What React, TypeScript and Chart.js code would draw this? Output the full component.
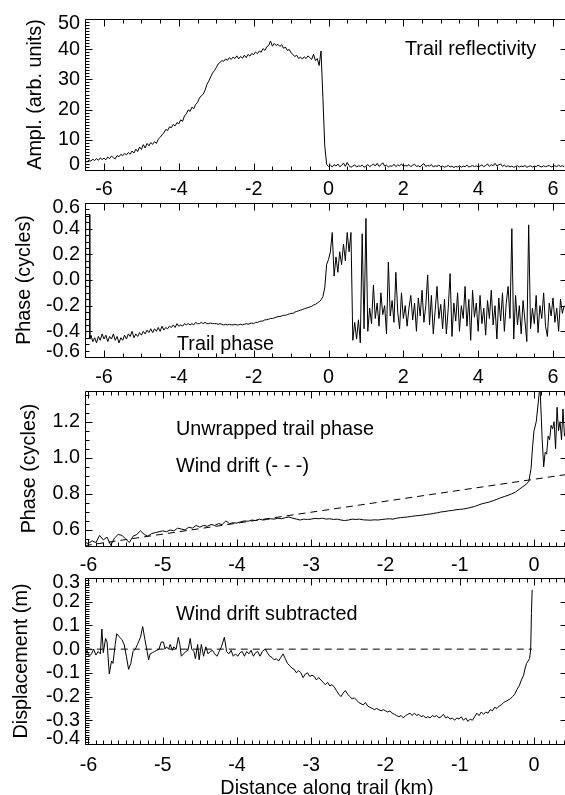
import { useEffect, useRef } from "react";
import { Chart, registerables } from "chart.js";

Chart.register(...registerables);

// ---------------- data ----------------
// Panel 1: trail reflectivity, regular grid in km
const P1_X0 = -6.5;
const P1_DX = 0.05;
const P1_AMPL = [
  3.2, 2.6, 3.4, 2.9, 3.6, 3.1, 3.8, 3.2, 4.0, 3.5,
  3.9, 3.4, 4.3, 3.8, 4.6, 4.1, 3.7, 4.8, 4.4, 5.2, 4.7, 5.5, 5.0, 5.8, 5.2, 6.3, 5.6, 6.9, 6.1, 7.6,
  6.8, 8.4, 7.3, 8.8, 8.0, 9.1, 8.5, 9.4, 8.8, 10.2, 10.8, 11.6, 12.3, 13.4, 13.1, 14.3, 14.0, 15.1, 14.6, 15.7,
  15.3, 16.6, 16.1, 17.9, 18.6, 19.9, 19.4, 20.8, 20.3, 21.7, 22.4, 23.8, 24.6, 25.1, 26.4, 28.3, 29.4, 30.8, 32.1, 32.9,
  33.9, 35.1, 35.6, 36.2, 36.0, 36.8, 36.3, 37.2, 36.6, 37.4, 36.9, 37.8, 36.8, 37.6, 37.0, 38.0, 37.2, 38.3, 37.7, 38.6,
  38.2, 39.1, 38.5, 39.4, 39.0, 40.2, 39.6, 40.8, 41.2, 42.7, 41.0, 41.9, 41.2, 41.6, 40.9, 41.5, 40.3, 40.7, 39.6, 39.9,
  38.8, 38.2, 37.6, 38.0, 36.9, 37.4, 36.7, 37.5, 36.9, 37.8, 37.2, 36.6, 38.3, 36.2, 36.9, 34.6, 39.4, 24.0, 8.0, 1.8,
  1.2, 1.6, 1.0, 1.8, 1.3, 2.0, 1.1, 1.5, 2.3, 1.2, 2.5, 1.4, 0.9, 1.3, 1.7, 1.0, 1.4, 1.2, 1.6, 0.9,
  1.3, 1.8, 1.1, 1.5, 2.0, 1.3, 2.2, 1.2, 1.7, 2.4, 1.3, 1.6, 1.0, 1.4, 1.2, 1.9, 1.1, 1.7, 1.4, 2.0,
  1.2, 1.5, 1.3, 1.8, 1.1, 1.6, 1.9, 1.2, 1.4, 1.0, 1.7, 2.1, 1.2, 1.5, 1.3, 1.8, 1.0, 1.4, 1.2, 1.6,
  1.1, 1.3, 0.9, 1.2, 1.5, 1.0, 1.3, 0.8, 1.2, 1.0, 1.4, 0.9, 1.3, 1.1, 1.6, 1.0, 1.2, 1.5, 1.1, 1.4,
  1.0, 1.3, 1.7, 1.1, 1.5, 2.0, 1.2, 1.8, 1.4, 2.2, 1.3, 1.7, 2.0, 1.2, 1.6, 1.1, 1.4, 1.0, 1.3, 0.9,
  1.2, 1.4, 1.0, 1.3, 1.1, 1.5, 0.9, 1.2, 1.4, 1.0, 1.3, 1.1, 1.6, 1.2, 1.0, 1.4, 1.1, 1.3, 1.5, 1.0,
  1.2, 1.4, 1.1, 1.6, 1.2, 1.4, 1.1,
];

// Panel 2: trail phase (wrapped). Phase-wrap bar at the very start, then a regular grid
const P2_EDGE: [number, number][] = [
  [-6.5, -0.44], [-6.49, 0.51], [-6.385, 0.51], [-6.38, -0.46],
];
const P2_X0 = -6.35;
const P2_DX = 0.05;
const P2_PHASE = [
  -0.43, -0.48, -0.45, -0.49, -0.44, -0.47, -0.42, -0.46, -0.43, -0.48, -0.44, -0.46, -0.42, -0.47, -0.44, -0.49, -0.45, -0.47, -0.43, -0.46,
  -0.42, -0.44, -0.40, -0.45, -0.42, -0.44, -0.41, -0.43, -0.40, -0.42, -0.39, -0.41, -0.38, -0.41, -0.38, -0.40, -0.37, -0.40, -0.36, -0.39,
  -0.37, -0.38, -0.36, -0.37, -0.35, -0.37, -0.34, -0.36, -0.35, -0.36, -0.34, -0.35, -0.34, -0.35, -0.34, -0.35, -0.33, -0.34, -0.34, -0.33,
  -0.34, -0.33, -0.34, -0.34, -0.335, -0.34, -0.34, -0.34, -0.345, -0.34, -0.345, -0.35, -0.345, -0.35, -0.345, -0.35, -0.35, -0.345, -0.35, -0.35,
  -0.345, -0.35, -0.345, -0.34, -0.345, -0.34, -0.335, -0.34, -0.33, -0.33, -0.325, -0.32, -0.32, -0.31, -0.31, -0.305, -0.30, -0.30, -0.295, -0.29,
  -0.285, -0.285, -0.28, -0.275, -0.275, -0.27, -0.265, -0.26, -0.26, -0.25, -0.245, -0.24, -0.235, -0.23, -0.225, -0.22, -0.215, -0.21, -0.205, -0.195,
  -0.19, -0.18, -0.17, -0.155, -0.13, -0.06, 0.12, 0.16, 0.22, 0.37, 0.03, 0.18, 0.06, 0.22, 0.12, 0.28, 0.15, 0.37, 0.22, 0.37,
  -0.47, -0.33, -0.46, -0.31, -0.49, 0.36, -0.38, 0.48, -0.40, -0.22, -0.34, -0.04, -0.30, -0.18, -0.36, -0.10, -0.27, -0.20, -0.42, 0.14,
  -0.28, -0.16, -0.33, 0.06, -0.25, -0.38, -0.10, -0.30, -0.20, -0.36, -0.22, -0.12, -0.31, -0.18, -0.40, -0.14, -0.28, -0.08, -0.33, -0.20,
  0.04, -0.35, -0.12, -0.42, -0.24, -0.05, -0.30, -0.19, -0.38, -0.15, -0.42, -0.22, 0.05, -0.44, -0.18, -0.32, -0.10, -0.40, -0.20, -0.30,
  -0.05, -0.36, -0.15, -0.47, -0.08, -0.29, -0.18, -0.40, -0.12, -0.34, -0.22, -0.43, -0.16, -0.30, -0.08, -0.35, -0.20, -0.46, -0.14, -0.32,
  -0.10, -0.40, -0.18, -0.05, -0.30, 0.40, -0.46, -0.12, -0.35, -0.20, -0.42, -0.16, -0.32, -0.48, 0.43, -0.38, -0.22, -0.34, -0.12, -0.41,
  -0.20, -0.30, -0.10, -0.36, -0.44, -0.18, -0.28, -0.14, -0.33, -0.22, -0.40, -0.15, -0.26, -0.20,
];

// Panel 3: unwrapped trail phase (regular grid up to -0.15 km, then explicit points)
const P3_X0 = -6.05;
const P3_DX = 0.05;
const P3_UNWRAPPED = [
  0.53, 0.525, 0.54, 0.53, 0.57, 0.545, 0.56, 0.515, 0.555, 0.575, 0.57, 0.55, 0.53, 0.565, 0.575, 0.595, 0.575, 0.565, 0.58, 0.585,
  0.59, 0.595, 0.59, 0.60, 0.595, 0.61, 0.605, 0.60, 0.615, 0.61, 0.625, 0.615, 0.625, 0.62, 0.63, 0.625, 0.635, 0.63, 0.65, 0.635,
  0.64, 0.638, 0.645, 0.65, 0.648, 0.655, 0.652, 0.66, 0.655, 0.658, 0.662, 0.66, 0.665, 0.662, 0.668, 0.672, 0.665, 0.66, 0.655, 0.66,
  0.658, 0.66, 0.664, 0.662, 0.665, 0.66, 0.662, 0.658, 0.66, 0.655, 0.652, 0.655, 0.66, 0.658, 0.66, 0.656, 0.655, 0.654, 0.656, 0.655,
  0.658, 0.66, 0.662, 0.66, 0.665, 0.668, 0.67, 0.672, 0.675, 0.678, 0.68, 0.682, 0.686, 0.688, 0.692, 0.695, 0.70, 0.702, 0.706, 0.708,
  0.712, 0.714, 0.716, 0.72, 0.725, 0.73, 0.738, 0.745, 0.75, 0.755, 0.762, 0.77, 0.778, 0.785, 0.792, 0.80, 0.81, 0.825, 0.84,
];
const P3_TAIL: [number, number][] = [
  [-0.10, 0.855], [-0.07, 0.87], [-0.04, 0.94], [-0.02, 1.06], [0.0, 1.15], [0.03, 1.2],
  [0.06, 1.32], [0.08, 1.40], [0.11, 1.10], [0.13, 0.95], [0.15, 1.03], [0.17, 1.02],
  [0.19, 1.12], [0.21, 1.10], [0.23, 1.18], [0.25, 1.16], [0.27, 1.20], [0.29, 1.05],
  [0.31, 1.28], [0.33, 1.15], [0.35, 1.20], [0.37, 1.10], [0.39, 1.27], [0.41, 1.12], [0.43, 1.15],
];
// Wind drift (dashed) line end points
const WIND_X = [-6.05, 0.45];
const WIND_Y = [0.513, 0.908];

// Panel 4: displacement with wind drift subtracted
const P4_POINTS: [number, number][] = [
  [-6.05, -0.03], [-6.02, -0.005], [-5.99, -0.03], [-5.96, -0.02], [-5.93, 0.0], [-5.90, -0.025],
  [-5.87, -0.01], [-5.84, -0.02], [-5.82, 0.085], [-5.80, -0.015], [-5.77, 0.045], [-5.75, 0.03],
  [-5.72, -0.105], [-5.69, -0.05], [-5.67, -0.06], [-5.64, 0.02], [-5.62, 0.065], [-5.58, 0.05],
  [-5.55, 0.04], [-5.52, 0.02], [-5.49, -0.03], [-5.46, -0.085], [-5.43, -0.06], [-5.40, -0.01],
  [-5.37, 0.0], [-5.34, 0.02], [-5.30, 0.05], [-5.27, 0.095], [-5.24, 0.04], [-5.21, -0.01],
  [-5.19, -0.045], [-5.17, -0.02], [-5.14, -0.015], [-5.11, -0.01], [-5.08, -0.005], [-5.05, 0.0],
  [-5.02, 0.03], [-4.99, 0.03], [-4.97, 0.0], [-4.95, 0.01], [-4.92, 0.0], [-4.90, 0.02],
  [-4.87, -0.005], [-4.85, 0.01], [-4.82, 0.0], [-4.79, 0.05], [-4.77, 0.02], [-4.75, -0.03],
  [-4.72, -0.02], [-4.69, -0.01], [-4.66, -0.005], [-4.63, 0.045], [-4.61, 0.0], [-4.58, -0.01],
  [-4.56, -0.04], [-4.53, 0.02], [-4.51, -0.045], [-4.48, 0.02], [-4.45, -0.03], [-4.42, 0.01],
  [-4.39, -0.02], [-4.36, -0.01], [-4.33, -0.005], [-4.30, -0.02], [-4.27, -0.03], [-4.24, -0.01],
  [-4.21, 0.01], [-4.17, 0.05], [-4.14, -0.01], [-4.11, -0.02], [-4.08, -0.005], [-4.05, -0.03],
  [-4.02, -0.02], [-3.99, -0.03], [-3.96, -0.015], [-3.93, -0.01], [-3.90, -0.03], [-3.87, -0.01],
  [-3.84, -0.02], [-3.81, -0.005], [-3.78, -0.03], [-3.75, -0.015], [-3.72, -0.01], [-3.69, -0.03],
  [-3.66, -0.01], [-3.62, 0.0], [-3.59, -0.015], [-3.56, -0.03], [-3.53, -0.035], [-3.50, -0.045],
  [-3.47, -0.04], [-3.44, -0.05], [-3.41, -0.035], [-3.38, -0.02], [-3.35, -0.04], [-3.32, -0.06],
  [-3.29, -0.07], [-3.26, -0.08], [-3.23, -0.085], [-3.20, -0.1], [-3.17, -0.09], [-3.14, -0.1],
  [-3.11, -0.12], [-3.08, -0.105], [-3.05, -0.1], [-3.02, -0.115], [-2.99, -0.11], [-2.96, -0.115],
  [-2.93, -0.13], [-2.90, -0.12], [-2.87, -0.13], [-2.84, -0.14], [-2.81, -0.15], [-2.78, -0.14],
  [-2.75, -0.155], [-2.72, -0.15], [-2.69, -0.16], [-2.66, -0.175], [-2.63, -0.19], [-2.60, -0.2],
  [-2.57, -0.185], [-2.54, -0.175], [-2.51, -0.19], [-2.48, -0.2], [-2.45, -0.21], [-2.42, -0.205],
  [-2.39, -0.215], [-2.36, -0.225], [-2.33, -0.23], [-2.30, -0.235], [-2.27, -0.225], [-2.24, -0.24],
  [-2.21, -0.245], [-2.18, -0.25], [-2.15, -0.255], [-2.12, -0.25], [-2.09, -0.255], [-2.06, -0.26],
  [-2.03, -0.255], [-2.00, -0.26], [-1.97, -0.265], [-1.94, -0.26], [-1.91, -0.27], [-1.88, -0.275],
  [-1.85, -0.28], [-1.82, -0.285], [-1.79, -0.28], [-1.76, -0.29], [-1.73, -0.28], [-1.70, -0.275],
  [-1.67, -0.27], [-1.64, -0.28], [-1.61, -0.27], [-1.58, -0.28], [-1.55, -0.275], [-1.52, -0.285],
  [-1.49, -0.28], [-1.46, -0.29], [-1.43, -0.285], [-1.40, -0.29], [-1.37, -0.28], [-1.34, -0.285],
  [-1.31, -0.28], [-1.28, -0.29], [-1.25, -0.285], [-1.22, -0.275], [-1.19, -0.29], [-1.16, -0.285],
  [-1.13, -0.295], [-1.10, -0.29], [-1.07, -0.3], [-1.04, -0.29], [-1.01, -0.295], [-0.98, -0.285],
  [-0.95, -0.3], [-0.92, -0.29], [-0.89, -0.305], [-0.86, -0.295], [-0.83, -0.3], [-0.80, -0.285],
  [-0.77, -0.27], [-0.74, -0.28], [-0.71, -0.265], [-0.68, -0.275], [-0.65, -0.265], [-0.62, -0.27],
  [-0.59, -0.255], [-0.56, -0.26], [-0.53, -0.245], [-0.50, -0.25], [-0.47, -0.24], [-0.44, -0.235],
  [-0.41, -0.225], [-0.38, -0.22], [-0.35, -0.215], [-0.32, -0.21], [-0.29, -0.2], [-0.26, -0.19],
  [-0.23, -0.17], [-0.20, -0.155], [-0.17, -0.13], [-0.14, -0.11], [-0.12, -0.08], [-0.10, -0.06],
  [-0.08, -0.05], [-0.06, -0.04], [-0.045, 0.0], [-0.035, 0.15], [-0.025, 0.25],
];
// Zero reference (dashed) line
const ZERO_X = [-6.05, -0.03];
const ZERO_Y = [0, 0];

// Tick values
const X_TICKS_WIDE = [-6, -4, -2, 0, 2, 4, 6];
const X_TICKS_NEAR = [-6, -5, -4, -3, -2, -1, 0];
const P1_Y_TICKS = [0, 10, 20, 30, 40, 50];
const P2_Y_TICKS = [-0.6, -0.4, -0.2, 0, 0.2, 0.4, 0.6];
const P3_Y_TICKS = [0.6, 0.8, 1.0, 1.2];
const P4_Y_TICKS = [-0.4, -0.3, -0.2, -0.1, 0, 0.1, 0.2, 0.3];

// ---------------- helpers ----------------
const grid = (x0: number, dx: number, ys: number[]) =>
  ys.map((y, i) => ({ x: +(x0 + i * dx).toFixed(4), y }));
const pairs = (pts: [number, number][]) => pts.map(([x, y]) => ({ x, y }));
const zip = (xs: number[], ys: number[]) => xs.map((x, i) => ({ x, y: ys[i] }));

const FONT = '19.8px "Liberation Sans", Arial, Helvetica, sans-serif';
const CW = 570;
const CH = 795;
const MAJOR = 7;
const MINOR = 4;

const solid = (data: any[]) => ({
  data, borderColor: "#000", borderWidth: 1, pointRadius: 0, tension: 0, fill: false,
});
const dashed = (data: any[]) => ({ ...solid(data), borderDash: [7, 5] });

type Panel = {
  box: { left: number; right: number; top: number; bottom: number };
  x: { min: number; max: number; ticks: number[]; minor: number; labelY: number };
  y: { min: number; max: number; ticks: number[]; minor: number; dec: number };
  yTitle: string;
  yTitleX: number;
  texts: [string, number, number][];
  xTitle?: [string, number];
  datasets: any[];
};

const PANELS: Panel[] = [
  {
    box: { left: 85, right: 567, top: 19, bottom: 170 },
    x: { min: -6.508, max: 6.374, ticks: X_TICKS_WIDE, minor: 0.5, labelY: 190 },
    y: { min: 0, max: 50, ticks: P1_Y_TICKS, minor: 1, dec: 0 },
    yTitle: "Ampl. (arb. units)",
    yTitleX: 36,
    texts: [["Trail reflectivity", 405, 50]],
    datasets: [solid(grid(P1_X0, P1_DX, P1_AMPL))],
  },
  {
    box: { left: 85, right: 567, top: 203, bottom: 357 },
    x: { min: -6.508, max: 6.374, ticks: X_TICKS_WIDE, minor: 0.5, labelY: 378 },
    y: { min: -0.6, max: 0.6, ticks: P2_Y_TICKS, minor: 0.05, dec: 1 },
    yTitle: "Phase (cycles)",
    yTitleX: 25,
    texts: [["Trail phase", 177, 345]],
    datasets: [solid([...pairs(P2_EDGE), ...grid(P2_X0, P2_DX, P2_PHASE)])],
  },
  {
    box: { left: 85, right: 567, top: 391, bottom: 546 },
    x: { min: -6.047, max: 0.444, ticks: X_TICKS_NEAR, minor: 0.1, labelY: 566 },
    y: { min: 0.511, max: 1.37, ticks: P3_Y_TICKS, minor: 0.05, dec: 1 },
    yTitle: "Phase (cycles)",
    yTitleX: 30,
    texts: [["Unwrapped trail phase", 176, 430], ["Wind drift (- - -)", 176, 467]],
    datasets: [
      solid([...grid(P3_X0, P3_DX, P3_UNWRAPPED), ...pairs(P3_TAIL)]),
      dashed(zip(WIND_X, WIND_Y)),
    ],
  },
  {
    box: { left: 85, right: 567, top: 578, bottom: 744 },
    x: { min: -6.047, max: 0.444, ticks: X_TICKS_NEAR, minor: 0.1, labelY: 766 },
    y: { min: -0.4, max: 0.3, ticks: P4_Y_TICKS, minor: 0.01, dec: 1 },
    yTitle: "Displacement (m)",
    yTitleX: 22,
    texts: [["Wind drift subtracted", 176, 615]],
    xTitle: ["Distance along trail (km)", 789],
    datasets: [solid(pairs(P4_POINTS)), dashed(zip(ZERO_X, ZERO_Y))],
  },
];

const isMajor = (v: number, ticks: number[], step: number) =>
  ticks.some((t) => Math.abs(t - v) < step * 0.2);

const axesPlugin = (cfg: Panel) => ({
  id: "idlAxes",
  afterDatasetsDraw(chart: any) {
    const { ctx } = chart;
    const { left, right, top, bottom } = chart.chartArea;
    const xs = chart.scales.x;
    const ys = chart.scales.y;
    const L = Math.round(left) + 0.5;
    const R = Math.round(right) + 0.5;
    const T = Math.round(top) + 0.5;
    const B = Math.round(bottom) + 0.5;
    ctx.save();
    ctx.strokeStyle = "#000";
    ctx.fillStyle = "#000";
    ctx.lineWidth = 1;
    ctx.beginPath();
    ctx.rect(L, T, R - L, B - T);
    const seg = (x1: number, y1: number, x2: number, y2: number) => {
      ctx.moveTo(x1, y1);
      ctx.lineTo(x2, y2);
    };
    // x ticks (bottom + top)
    for (const v of cfg.x.ticks) {
      const p = Math.round(xs.getPixelForValue(v)) + 0.5;
      seg(p, B, p, B - MAJOR);
      seg(p, T, p, T + MAJOR);
    }
    for (let k = Math.ceil(cfg.x.min / cfg.x.minor); k * cfg.x.minor <= cfg.x.max + 1e-9; k++) {
      const v = k * cfg.x.minor;
      if (isMajor(v, cfg.x.ticks, cfg.x.minor)) continue;
      const p = Math.round(xs.getPixelForValue(v)) + 0.5;
      seg(p, B, p, B - MINOR);
      seg(p, T, p, T + MINOR);
    }
    // y ticks: left major + minor, right major only
    for (const v of cfg.y.ticks) {
      const p = Math.round(ys.getPixelForValue(v)) + 0.5;
      seg(L, p, L + MAJOR, p);
      seg(R, p, R - MAJOR, p);
    }
    for (let k = Math.ceil(cfg.y.min / cfg.y.minor - 1e-9); k * cfg.y.minor <= cfg.y.max + 1e-9; k++) {
      const v = k * cfg.y.minor;
      if (isMajor(v, cfg.y.ticks, cfg.y.minor)) continue;
      const p = Math.round(ys.getPixelForValue(v)) + 0.5;
      seg(L, p, L + MINOR, p);
    }
    ctx.stroke();

    ctx.font = FONT;
    ctx.textBaseline = "middle";
    // x tick labels
    ctx.textAlign = "center";
    for (const v of cfg.x.ticks) {
      ctx.fillText(String(v), xs.getPixelForValue(v), cfg.x.labelY);
    }
    // y tick labels (kept inside the frame height)
    ctx.textAlign = "right";
    for (const v of cfg.y.ticks) {
      let p = ys.getPixelForValue(v);
      p = Math.min(Math.max(p, top + 5), bottom - 5);
      ctx.fillText(v.toFixed(cfg.y.dec), left - 5, p);
    }
    // y title
    ctx.save();
    ctx.translate(cfg.yTitleX, (top + bottom) / 2);
    ctx.rotate(-Math.PI / 2);
    ctx.textAlign = "center";
    ctx.fillText(cfg.yTitle, 0, 0);
    ctx.restore();
    // annotations
    ctx.textAlign = "left";
    for (const [t, x, y] of cfg.texts) ctx.fillText(t, x, y);
    // x title
    if (cfg.xTitle) {
      ctx.textAlign = "center";
      ctx.fillText(cfg.xTitle[0], (left + 565) / 2 + 2, cfg.xTitle[1]);
    }
    ctx.restore();
  },
});

function PanelChart({ cfg }: { cfg: Panel }) {
  const ref = useRef<HTMLCanvasElement>(null);
  useEffect(() => {
    const canvas = ref.current!;
    const chart = new Chart(canvas, {
      type: "line",
      data: { datasets: cfg.datasets },
      options: {
        responsive: false,
        animation: false,
        events: [],
        layout: {
          padding: {
            left: cfg.box.left,
            right: CW - cfg.box.right,
            top: cfg.box.top,
            bottom: CH - cfg.box.bottom,
          },
        },
        plugins: { legend: { display: false }, tooltip: { enabled: false }, title: { display: false } },
        scales: {
          x: { type: "linear", min: cfg.x.min, max: cfg.x.max, display: false },
          y: { type: "linear", min: cfg.y.min, max: cfg.y.max, display: false },
        },
      } as any,
      plugins: [axesPlugin(cfg)],
    });
    return () => chart.destroy();
  }, [cfg]);
  return (
    <canvas
      ref={ref}
      width={CW}
      height={CH}
      style={{ position: "absolute", left: 0, top: 0, width: CW, height: CH }}
    />
  );
}

export default function App() {
  return (
    <div
      style={{
        position: "fixed",
        left: 0,
        top: 0,
        width: 565,
        height: 795,
        overflow: "hidden",
        background: "#fff",
      }}
    >
      {PANELS.map((p, i) => (
        <PanelChart key={i} cfg={p} />
      ))}
    </div>
  );
}
